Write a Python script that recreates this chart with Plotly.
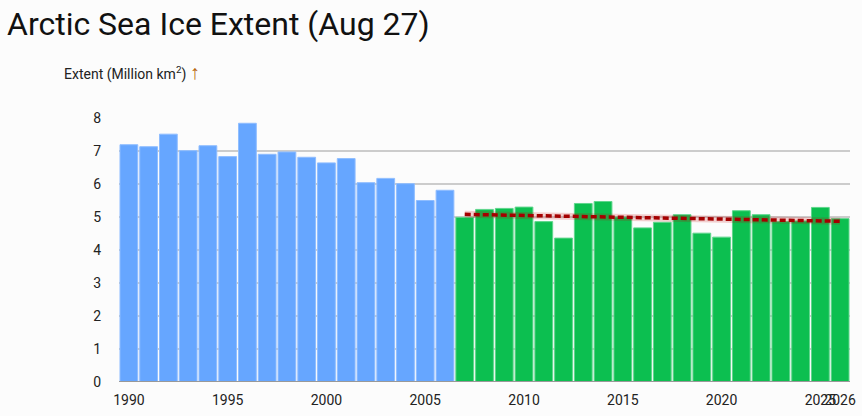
import plotly.graph_objects as go

years_early = list(range(1990, 2007))
extent_early = [7.19, 7.13, 7.51, 7.01, 7.16, 6.83, 7.84, 6.90, 6.97, 6.81,
                6.64, 6.77, 6.04, 6.17, 6.01, 5.50, 5.81]
years_late = list(range(2007, 2027))
extent_late = [4.99, 5.23, 5.26, 5.30, 4.86, 4.36, 5.41, 5.47, 5.00, 4.67,
               4.84, 5.07, 4.51, 4.39, 5.19, 5.07, 4.86, 4.88, 5.29, 4.95]
trend_years = [2007, 2026]
trend_values = [5.08, 4.87]
tick_years = [1990, 1995, 2000, 2005, 2010, 2015, 2020, 2025, 2026]

FONT = "Roboto"
W, H = 862, 416
ml, mr, mt, mb = 119, 6, 118, 34
pw, ph = W - ml - mr, H - mt - mb

fig = go.Figure()
fig.add_trace(go.Bar(x=years_early, y=extent_early, marker_color="#66a6ff",
                     marker_line=dict(color="#8fbdff", width=1), showlegend=False))
fig.add_trace(go.Bar(x=years_late, y=extent_late, marker_color="#0cbf50",
                     marker_line=dict(color="#5fd68c", width=1), showlegend=False))
fig.add_trace(go.Scatter(x=trend_years, y=trend_values, mode="lines",
                         line=dict(color="rgba(200,0,0,0.18)", width=7),
                         showlegend=False, hoverinfo="skip"))
fig.add_trace(go.Scatter(x=trend_years, y=trend_values, mode="lines",
                         line=dict(color="#a50000", width=3.5, dash="6px,3px"),
                         showlegend=False))

fig.update_layout(
    width=W, height=H,
    margin=dict(l=ml, r=mr, t=mt, b=mb, pad=0),
    paper_bgcolor="#fcfcfc", plot_bgcolor="#fcfcfc",
    bargap=0.1, barmode="overlay",
    font=dict(family=FONT, color="#222222"),
    title=dict(text="Arctic Sea Ice Extent (Aug 27)", x=7 / W, xanchor="left",
               xref="container", y=1 - 24 / H, yanchor="middle", yref="container",
               font=dict(family=FONT, size=32, color="#111111")),
    xaxis=dict(range=[1989.5, 2026.5], tickmode="array", tickvals=tick_years,
               ticktext=[str(t) for t in tick_years], showgrid=False,
               tickfont=dict(size=14, color="#222222"), ticks="", tickangle=0,
               showline=False, zeroline=False, ticklabelstandoff=8),
    yaxis=dict(range=[0, 8], tickvals=list(range(0, 9)), showgrid=True,
               gridcolor="#cccccc", gridwidth=1.5, zeroline=False,
               tickfont=dict(size=14, color="#222222"), ticks="",
               showline=False, ticklabelstandoff=17),
    shapes=[dict(type="line", xref="paper", yref="y", x0=0, x1=1, y0=0, y1=0,
                 line=dict(color="#999999", width=2), layer="above")],
    annotations=[dict(text="Extent (Million km<sup>2</sup>) <b><span style='color:#b8660e;font-size:20px'>↑</span></b>",
                      xref="paper", yref="paper", x=(62 - ml) / pw, y=(H - mb - 72) / ph,
                      xanchor="left", yanchor="middle", showarrow=False,
                      font=dict(family=FONT, size=14, color="#222222"))],
)

fig.write_html("out.html", config={"displayModeBar": False},
               post_script="document.body.style.margin='0';")
